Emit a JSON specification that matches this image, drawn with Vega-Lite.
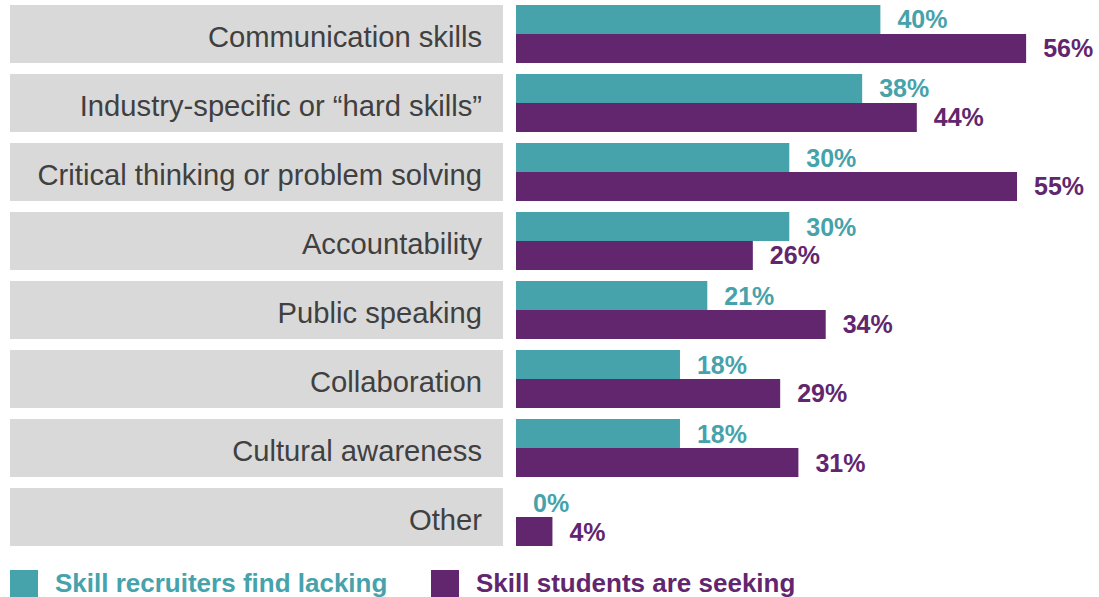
{
  "$schema": "https://vega.github.io/schema/vega-lite/v6.json",
  "padding": {"top": 5, "left": 10, "right": 0, "bottom": 0},
  "background": "white",
  "data": {
    "values": [
      {"skill": "Communication skills", "series": "Skill recruiters find lacking", "value": 40},
      {"skill": "Communication skills", "series": "Skill students are seeking", "value": 56},
      {"skill": "Industry-specific or “hard skills”", "series": "Skill recruiters find lacking", "value": 38},
      {"skill": "Industry-specific or “hard skills”", "series": "Skill students are seeking", "value": 44},
      {"skill": "Critical thinking or problem solving", "series": "Skill recruiters find lacking", "value": 30},
      {"skill": "Critical thinking or problem solving", "series": "Skill students are seeking", "value": 55},
      {"skill": "Accountability", "series": "Skill recruiters find lacking", "value": 30},
      {"skill": "Accountability", "series": "Skill students are seeking", "value": 26},
      {"skill": "Public speaking", "series": "Skill recruiters find lacking", "value": 21},
      {"skill": "Public speaking", "series": "Skill students are seeking", "value": 34},
      {"skill": "Collaboration", "series": "Skill recruiters find lacking", "value": 18},
      {"skill": "Collaboration", "series": "Skill students are seeking", "value": 29},
      {"skill": "Cultural awareness", "series": "Skill recruiters find lacking", "value": 18},
      {"skill": "Cultural awareness", "series": "Skill students are seeking", "value": 31},
      {"skill": "Other", "series": "Skill recruiters find lacking", "value": 0},
      {"skill": "Other", "series": "Skill students are seeking", "value": 4}
    ]
  },
  "spacing": 13,
  "hconcat": [
    {
      "width": 493,
      "height": 541,
      "transform": [{"filter": "datum.series === 'Skill recruiters find lacking'"}],
      "encoding": {
        "y": {
          "field": "skill",
          "type": "nominal",
          "sort": null,
          "axis": null,
          "scale": {"paddingInner": 0.16, "paddingOuter": 0}
        }
      },
      "layer": [
        {
          "mark": {"type": "bar", "color": "#d9d9d9"},
          "encoding": {"x": {"value": 0}, "x2": {"value": "width"}}
        },
        {
          "mark": {"type": "text", "align": "right", "baseline": "middle", "dx": -21, "dy": 4, "font": "Liberation Sans", "fontSize": 29.2, "color": "#404040"},
          "encoding": {"x": {"value": "width"}, "text": {"field": "skill"}}
        }
      ]
    },
    {
      "width": 583,
      "height": 541,
      "transform": [{"calculate": "datum.value + '%'", "as": "label"}],
      "encoding": {
        "y": {
          "field": "skill",
          "type": "nominal",
          "sort": null,
          "axis": null,
          "scale": {"paddingInner": 0.16, "paddingOuter": 0}
        },
        "yOffset": {"field": "series", "type": "nominal", "scale": {"paddingInner": 0, "paddingOuter": 0}},
        "x": {"field": "value", "type": "quantitative", "axis": null, "scale": {"domain": [0, 64], "nice": false}}
      },
      "layer": [
        {
          "mark": {"type": "bar"},
          "encoding": {
            "color": {
              "field": "series",
              "type": "nominal",
              "scale": {"domain": ["Skill recruiters find lacking", "Skill students are seeking"], "range": ["#46a2ab", "#62266e"]},
              "legend": {
                "title": null,
                "orient": "bottom",
                "direction": "horizontal",
                "symbolType": "square",
                "symbolSize": 784,
                "symbolStrokeWidth": 0,
                "labelFont": "Liberation Sans",
                "labelFontSize": 26,
                "labelFontWeight": "bold",
                "labelOffset": 17,
                "columnPadding": 43,
                "offset": 24,
                "labelLimit": 500,
                "encode": {
                  "labels": {"update": {"fill": {"signal": "datum.value === 'Skill recruiters find lacking' ? '#46a2ab' : '#62266e'"}}}
                }
              }
            }
          }
        },
        {
          "mark": {"type": "text", "align": "left", "baseline": "middle", "dx": 17, "dy": 1, "font": "Liberation Sans", "fontSize": 25, "fontWeight": "bold"},
          "encoding": {
            "text": {"field": "label", "type": "nominal"},
            "color": {"field": "series", "type": "nominal", "legend": null}
          }
        }
      ]
    }
  ],
  "config": {"view": {"stroke": null}}
}
